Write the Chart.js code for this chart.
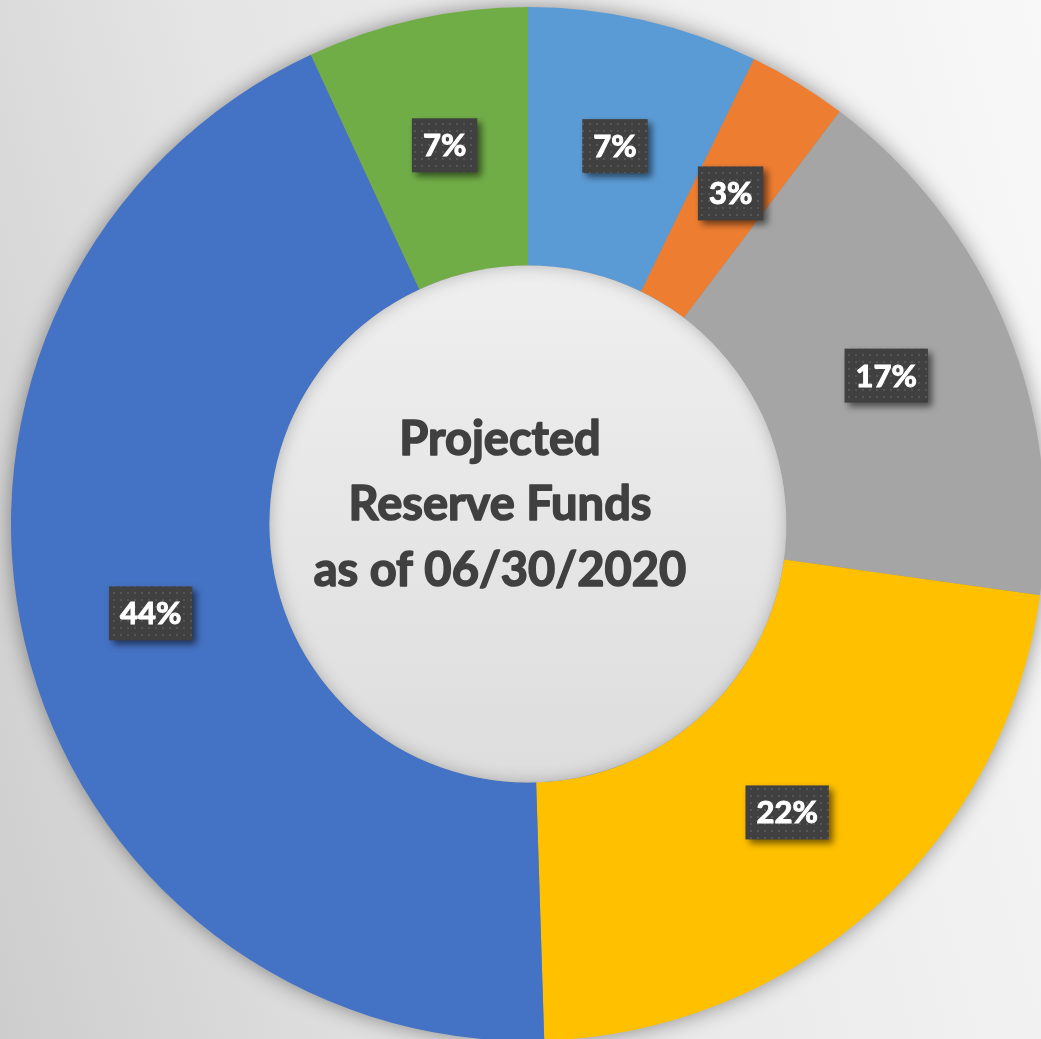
<!DOCTYPE html>
<html>
<head>
<meta charset="utf-8">
<script src="https://cdn.jsdelivr.net/npm/chart.js@4.4.1/dist/chart.umd.min.js"></script>
<style>
  html, body { margin: 0; padding: 0; width: 1041px; height: 1039px; overflow: hidden; }
  body { background: linear-gradient(75deg, #cdcdcd 0%, #e4e4e4 35%, #f8f8f8 100%); position: relative; }
  #chart { position: absolute; left: -2px; top: -6px; }
</style>
</head>
<body>
<canvas id="chart" width="1060" height="1060"></canvas>
<script>
  // slices, clockwise from 12 o'clock
  const categories = ["Fund A", "Fund B", "Fund C", "Fund D", "Fund E", "Fund F"];
  const values = [7.2, 3.1, 16.9, 22.3, 43.6, 6.9];
  const colors = ["#5b9bd5", "#ed7d31", "#a5a5a5", "#ffc000", "#4472c4", "#70ad47"];
  const centerLines = ["Projected", "Reserve Funds", "as of 06/30/2020"];

  // dotted dark fill for the value boxes
  function dotPattern(ctx) {
    const c = document.createElement('canvas');
    c.width = 7; c.height = 7;
    const p = c.getContext('2d');
    p.fillStyle = '#404040';
    p.fillRect(0, 0, 7, 7);
    p.fillStyle = '#555555';
    p.fillRect(3, 3, 2, 2);
    return ctx.createPattern(c, 'repeat');
  }

  const ringShadow = {
    id: 'ringShadow',
    beforeDatasetsDraw(chart) {
      const arc = chart.getDatasetMeta(0).data[0];
      const { x, y, outerRadius } = arc.getProps(['x', 'y', 'outerRadius'], true);
      const ctx = chart.ctx;
      ctx.save();
      ctx.shadowColor = 'rgba(0,0,0,0.45)';
      ctx.shadowBlur = 22;
      ctx.fillStyle = '#888';
      ctx.beginPath();
      ctx.arc(x, y, outerRadius - 1, 0, Math.PI * 2);
      ctx.fill();
      ctx.restore();
    }
  };

  const holeAndLabels = {
    id: 'holeAndLabels',
    afterDatasetsDraw(chart) {
      const ctx = chart.ctx;
      const meta = chart.getDatasetMeta(0);
      const first = meta.data[0];
      const { x, y, innerRadius } = first.getProps(['x', 'y', 'innerRadius'], true);

      // centre disc with soft inner shadow
      ctx.save();
      ctx.beginPath();
      ctx.arc(x, y, innerRadius, 0, Math.PI * 2);
      ctx.clip();
      const g = ctx.createLinearGradient(0, y - innerRadius, 0, y + innerRadius);
      g.addColorStop(0, '#efefef');
      g.addColorStop(1, '#dddddd');
      ctx.fillStyle = g;
      ctx.fillRect(x - innerRadius - 2, y - innerRadius - 2, innerRadius * 2 + 4, innerRadius * 2 + 4);
      ctx.shadowColor = 'rgba(0,0,0,0.3)';
      ctx.shadowBlur = 18;
      ctx.strokeStyle = '#000';
      ctx.lineWidth = 40;
      ctx.beginPath();
      ctx.arc(x, y, innerRadius + 22, 0, Math.PI * 2);
      ctx.stroke();
      ctx.restore();

      // centre text
      ctx.save();
      ctx.fillStyle = '#404040';
      ctx.strokeStyle = '#404040';
      ctx.lineWidth = 1.6;
      ctx.lineJoin = 'round';
      ctx.font = 'bold 47px Lato';
      ctx.textAlign = 'center';
      ctx.textBaseline = 'alphabetic';
      const baselines = [-69, -4, 62];
      centerLines.forEach((t, i) => {
        ctx.fillText(t, x - 28, y + baselines[i]);
        ctx.strokeText(t, x - 28, y + baselines[i]);
      });
      ctx.restore();

      // value boxes
      const total = values.reduce((a, b) => a + b, 0);
      const pattern = dotPattern(ctx);
      ctx.save();
      ctx.font = 'bold 31px Lato';
      ctx.textAlign = 'center';
      ctx.textBaseline = 'middle';
      meta.data.forEach((arc, i) => {
        const pos = arc.tooltipPosition(true);
        const label = Math.round(values[i] / total * 100) + '%';
        const w = ctx.measureText(label).width + 22;
        const h = 54;
        ctx.save();
        ctx.shadowColor = 'rgba(0,0,0,0.55)';
        ctx.shadowBlur = 7;
        ctx.shadowOffsetX = 4;
        ctx.shadowOffsetY = 4;
        ctx.fillStyle = pattern;
        ctx.fillRect(pos.x - w / 2, pos.y - h / 2, w, h);
        ctx.restore();
        ctx.fillStyle = '#ffffff';
        ctx.strokeStyle = '#ffffff';
        ctx.lineWidth = 1;
        ctx.fillText(label, pos.x, pos.y + 1);
        ctx.strokeText(label, pos.x, pos.y + 1);
      });
      ctx.restore();
    }
  };

  new Chart(document.getElementById('chart').getContext('2d'), {
    type: 'doughnut',
    data: {
      labels: categories,
      datasets: [{
        data: values,
        backgroundColor: colors,
        borderWidth: 0
      }]
    },
    options: {
      responsive: false,
      animation: false,
      cutout: '50%',
      layout: { padding: 13 },
      plugins: {
        legend: { display: false },
        tooltip: { enabled: false }
      }
    },
    plugins: [ringShadow, holeAndLabels]
  });
</script>
</body>
</html>
